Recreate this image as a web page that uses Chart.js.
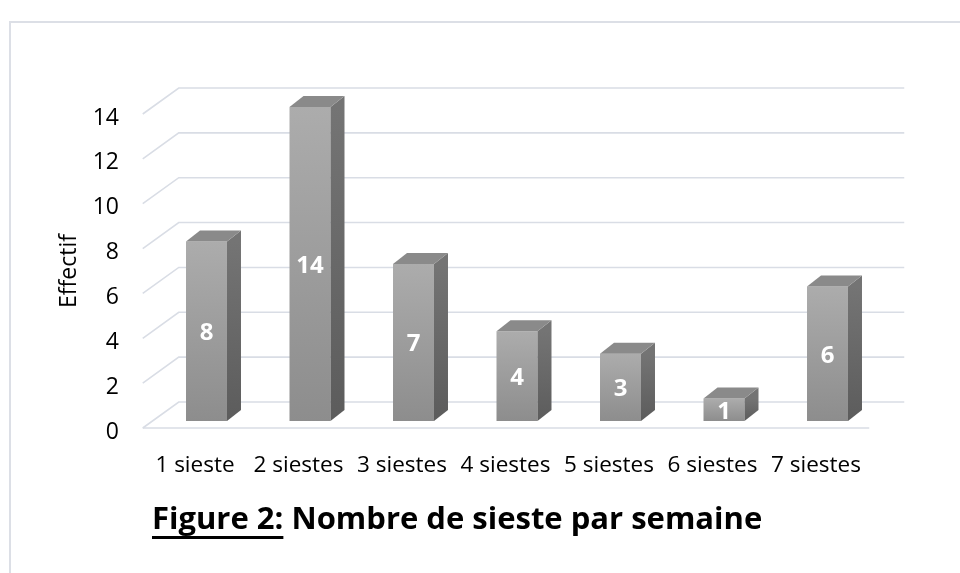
<!DOCTYPE html>
<html>
<head>
<meta charset="utf-8">
<script src="https://cdn.jsdelivr.net/npm/chart.js@4.4.1/dist/chart.umd.min.js"></script>
<style>
  html, body { margin: 0; padding: 0; background: #fff; }
  #wrap { position: relative; width: 960px; height: 573px; overflow: hidden; }
  #frame { position: absolute; left: 9px; top: 21px; width: 1000px; height: 600px; border: 2px solid #dcdfe6; }
  #chart { position: absolute; left: 0; top: 0; }
  #caption { position: absolute; left: 152px; top: 496px; font: bold 31px "Open Sans"; color: #000; white-space: nowrap; }
  #caption u { text-underline-offset: 7px; text-decoration-thickness: 3px; }
</style>
</head>
<body>
<div id="wrap">
  <div id="frame"></div>
  <canvas id="chart" width="960" height="573"></canvas>
  <div id="caption"><u>Figure 2:</u> Nombre de sieste par semaine</div>
</div>
<script>
// ---- Data ----
const categories = ['1 sieste', '2 siestes', '3 siestes', '4 siestes', '5 siestes', '6 siestes', '7 siestes'];
const effectifs = [8, 14, 7, 4, 3, 1, 6];
const yTicks = [0, 2, 4, 6, 8, 10, 12, 14];
const yTitle = 'Effectif';

// ---- 3D look (offsets in px) ----
const BAR_DX = 14, BAR_DY = -11;        // depth of each bar
const WALL_FRONT = { dx: -12, dy: 7 };  // front edge of floor/left wall, relative to bar plane
const WALL_BACK = { dx: 24, dy: -19 };  // back wall, relative to bar plane
const GRID = '#d9dde5';

function frontFill(ctx) {
  const chart = ctx.chart;
  const y = chart.scales && chart.scales.y;
  if (!chart.chartArea || !y || ctx.parsed == null) return '#9c9c9c';
  const top = y.getPixelForValue(ctx.parsed.y), base = y.getPixelForValue(0);
  const g = chart.ctx.createLinearGradient(0, top, 0, base);
  g.addColorStop(0, '#acacac');
  g.addColorStop(1, '#8d8d8d');
  return g;
}

const bar3d = {
  id: 'bar3d',
  beforeDatasetsDraw(chart) {
    const { ctx, chartArea: a, scales: { y } } = chart;
    ctx.save();
    ctx.strokeStyle = GRID;
    ctx.lineWidth = 1.6;
    yTicks.forEach((v) => {
      const p = y.getPixelForValue(v);
      ctx.beginPath();
      ctx.moveTo(a.left + WALL_FRONT.dx, p + WALL_FRONT.dy);
      ctx.lineTo(a.left + WALL_BACK.dx, p + WALL_BACK.dy);
      ctx.lineTo(a.right + WALL_BACK.dx + 1, p + WALL_BACK.dy);
      ctx.stroke();
    });
    // front edge of the floor
    const p0 = y.getPixelForValue(0);
    ctx.beginPath();
    ctx.moveTo(a.left + WALL_FRONT.dx, p0 + WALL_FRONT.dy);
    ctx.lineTo(a.right - 10, p0 + WALL_FRONT.dy);
    ctx.stroke();
    ctx.restore();
  },
  afterDatasetsDraw(chart) {
    const { ctx } = chart;
    const meta = chart.getDatasetMeta(0);
    ctx.save();
    meta.data.forEach((bar, i) => {
      const { x, y, base, width } = bar.getProps(['x', 'y', 'base', 'width'], true);
      const l = x - width / 2, r = x + width / 2;
      // side
      const gs = ctx.createLinearGradient(0, y, 0, base);
      gs.addColorStop(0, '#747474');
      gs.addColorStop(1, '#5c5c5c');
      ctx.fillStyle = gs;
      ctx.beginPath();
      ctx.moveTo(r, y); ctx.lineTo(r + BAR_DX, y + BAR_DY);
      ctx.lineTo(r + BAR_DX, base + BAR_DY); ctx.lineTo(r, base);
      ctx.closePath(); ctx.fill();
      // top
      ctx.fillStyle = '#8a8a8a';
      ctx.beginPath();
      ctx.moveTo(l, y); ctx.lineTo(l + BAR_DX, y + BAR_DY);
      ctx.lineTo(r + BAR_DX, y + BAR_DY); ctx.lineTo(r, y);
      ctx.closePath(); ctx.fill();
      // value label
      ctx.fillStyle = '#fff';
      ctx.font = 'bold 24px "Open Sans"';
      ctx.textAlign = 'center';
      ctx.textBaseline = 'middle';
      ctx.fillText(String(effectifs[i]), x, (y + base) / 2 + 2);
    });
    ctx.restore();
  },
  afterDraw(chart) {
    const { ctx } = chart;
    ctx.save();
    ctx.translate(69, 271);
    ctx.rotate(-Math.PI / 2);
    ctx.fillStyle = '#000';
    ctx.font = '23px "Open Sans"';
    ctx.textAlign = 'center';
    ctx.textBaseline = 'middle';
    ctx.fillText(yTitle, 0, 0);
    ctx.restore();
  }
};

new Chart(document.getElementById('chart'), {
  type: 'bar',
  data: {
    labels: categories,
    datasets: [{ data: effectifs, backgroundColor: frontFill, borderWidth: 0,
      categoryPercentage: 1, barPercentage: 0.396 }]
  },
  options: {
    responsive: false,
    animation: false,
    layout: { padding: { top: 107, right: 80.75, bottom: 0, left: 0 } },
    plugins: { legend: { display: false }, tooltip: { enabled: false } },
    scales: {
      x: {
        grid: { display: false, drawTicks: false }, border: { display: false },
        ticks: { color: '#000', font: { family: 'Open Sans', size: 22.5 }, padding: 31, labelOffset: -11.5, maxRotation: 0 },
        afterFit: (s) => { s.height = 152; }
      },
      y: {
        min: 0, max: 14,
        grid: { display: false, drawTicks: false }, border: { display: false },
        ticks: { stepSize: 2, color: '#000', font: { family: 'Open Sans', size: 23 }, padding: 35.75, labelOffset: 11 },
        afterBuildTicks: (s) => { s.ticks = yTicks.map((v) => ({ value: v })); },
        afterFit: (s) => { s.width = 154.75; }
      }
    }
  },
  plugins: [bar3d]
});
</script>
</body>
</html>
